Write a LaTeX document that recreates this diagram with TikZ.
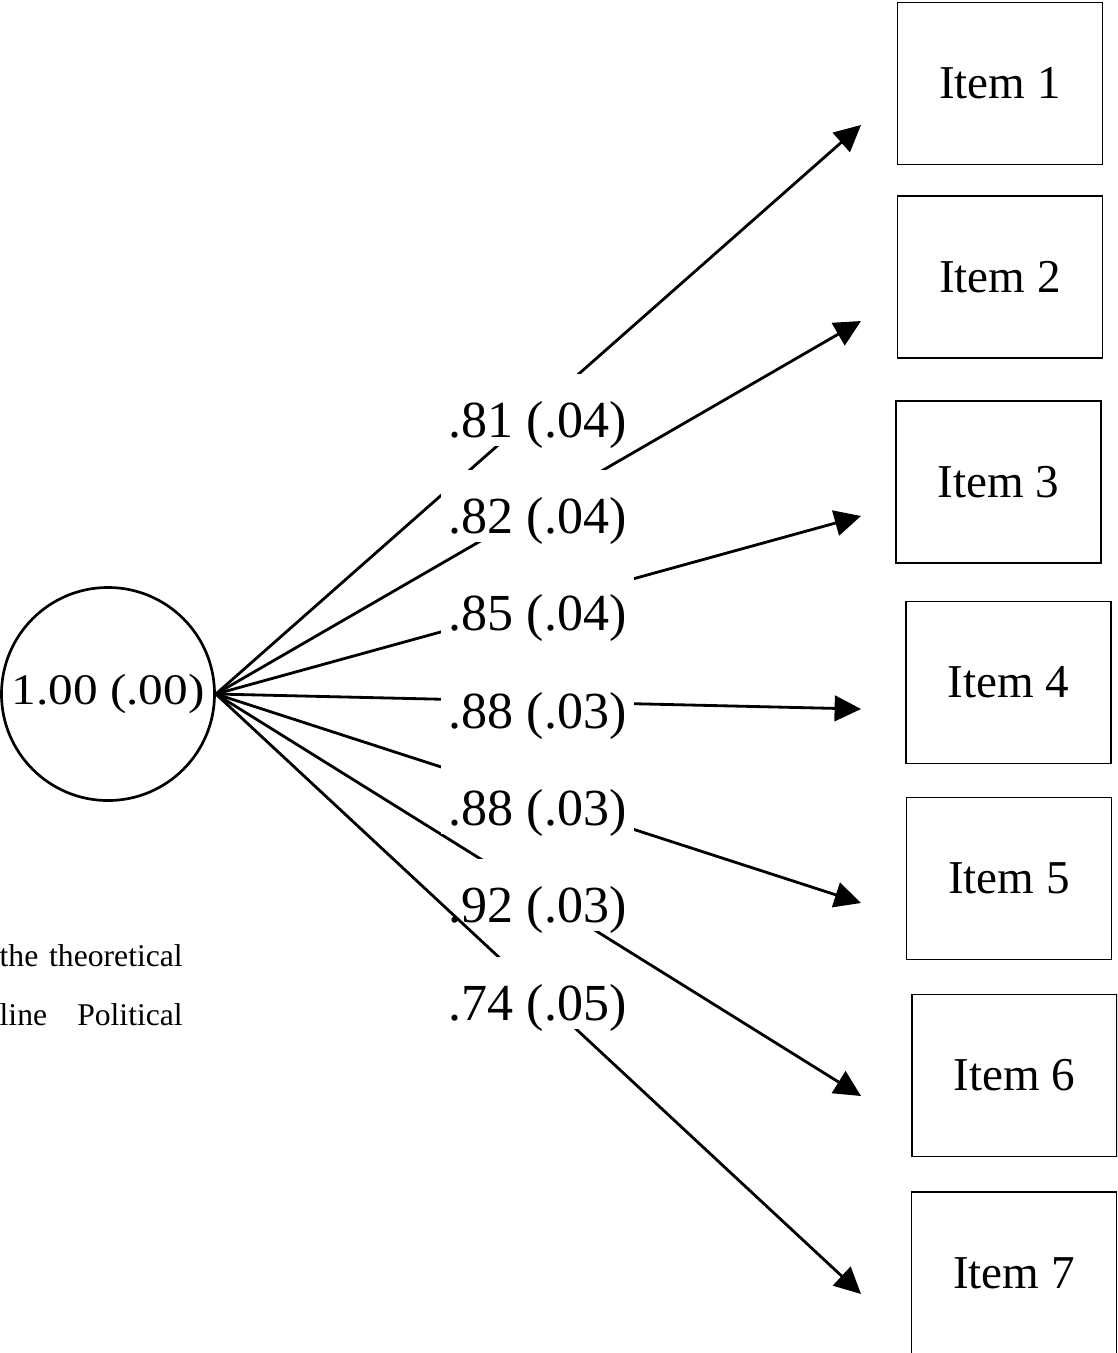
\documentclass[tikz,border=0pt]{standalone}
\usepackage{fontspec}
\setmainfont{Liberation Serif}
\usepackage{graphicx}
\usepackage{tikz}
\tikzset{>=latex}
\usetikzlibrary{arrows.meta}

\begin{document}
\begin{tikzpicture}[x=0.025cm, y=-0.025cm]
            \tikzset{factor/.style = {circle, draw, line width=1.9pt, minimum size=5.325cm, inner sep=0pt}}
            \tikzset{item/.style = {rectangle, draw, line width=1.2pt, minimum width=5.125cm, minimum height=4.05cm, font=\fontsize{33.5}{40}\selectfont}}
            \tikzset{load/.style = {fill=white, inner sep=0pt, anchor=base, minimum width=4.8cm, text height=1.575cm, text depth=0.225cm, font=\fontsize{37}{44}\selectfont}}
            \tikzset{arr/.style = {line width=2pt, -{Triangle[length=0.66cm, width=0.64cm]}}}
            \tikzset{caption/.style = {inner sep=0pt, anchor=base east, font=\fontsize{22.5}{26}\selectfont}}
            \useasboundingbox (0, 0) rectangle (1117, 1353);
            \clip (0, 0) rectangle (1117, 1353);
            \node[factor] (factor) at (108, 694) {\scalebox{1.13}[1]{\fontsize{31}{36}\selectfont 1.00 (.00)}};
            \node[item] (item1) at (1000, 83.5) {Item 1};
            \node[item] (item2) at (1000, 277) {Item 2};
            \node[item] (item3) at (998.5, 482) {Item 3};
            \node[item] (item4) at (1008.5, 682.5) {Item 4};
            \node[item] (item5) at (1009, 878.5) {Item 5};
            \node[item] (item6) at (1014.5, 1075.5) {Item 6};
            \node[item] (item7) at (1014, 1273) {Item 7};
            \coordinate (tip1) at (861, 125);
            \coordinate (tip2) at (861, 321);
            \coordinate (tip3) at (861, 516);
            \coordinate (tip4) at (861, 709);
            \coordinate (tip5) at (861, 903);
            \coordinate (tip6) at (861, 1096);
            \coordinate (tip7) at (861, 1294);
            \draw[arr] (factor.east) -- (tip1);
            \draw[arr] (factor.east) -- (tip2);
            \draw[arr] (factor.east) -- (tip3);
            \draw[arr] (factor.east) -- (tip4);
            \draw[arr] (factor.east) -- (tip5);
            \draw[arr] (factor.east) -- (tip6);
            \node[load] (load1) at (537.5, 437) {.81 (.04)};
            \node[load] (load2) at (537.5, 533) {.82 (.04)};
            \node[load] (load3) at (537.5, 630) {.85 (.04)};
            \node[load] (load4) at (537.5, 728) {.88 (.03)};
            \node[load] (load5) at (537.5, 825) {.88 (.03)};
            \node[load] (load6) at (537.5, 922) {.92 (.03)};
            \draw[arr] (factor.east) -- (tip7);
            \node[load] (load7) at (537.5, 1020) {.74 (.05)};
            \node[caption] (cap1) at (183, 966) {\makebox[4.575cm][s]{the theoretical}};
            \node[caption] (cap2) at (183, 1025) {\makebox[4.575cm][s]{line Political}};
        \end{tikzpicture}
\end{document}
